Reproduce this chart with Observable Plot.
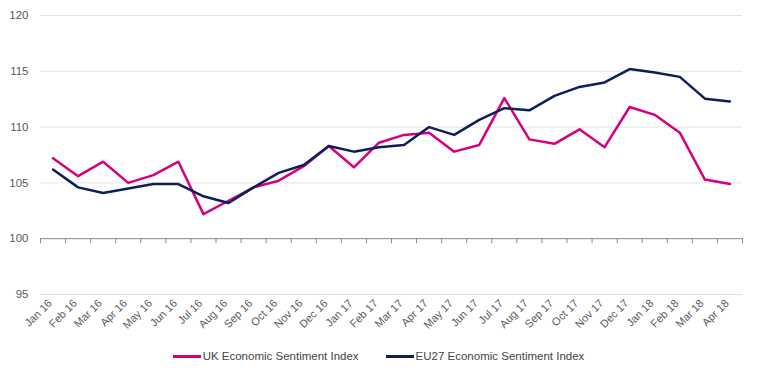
<!DOCTYPE html>
<html>
<head>
<meta charset="utf-8">
<script src="https://cdn.jsdelivr.net/npm/d3@7"></script>
<script src="https://cdn.jsdelivr.net/npm/@observablehq/plot@0.6"></script>
<style>
  body { margin: 0; background: #fff; font-family: "Liberation Sans", Arial, sans-serif; }
  #chart svg { display: block; }
  .legend { display: flex; justify-content: center; gap: 27px; font-size: 11.5px; color: #444; margin-top: 14px; padding-left: 0px; }
  .legend .item { display: flex; align-items: center; }
  .legend .sw { display: inline-block; width: 28px; height: 3px; margin-right: 2px; }
</style>
</head>
<body>
<div id="chart"></div>
<div class="legend">
  <div class="item"><span class="sw" style="background:#d6007e"></span>UK Economic Sentiment Index</div>
  <div class="item"><span class="sw" style="background:#0c1e5b"></span>EU27 Economic Sentiment Index</div>
</div>
<script>
const months = ["Jan 16","Feb 16","Mar 16","Apr 16","May 16","Jun 16","Jul 16","Aug 16","Sep 16","Oct 16","Nov 16","Dec 16",
  "Jan 17","Feb 17","Mar 17","Apr 17","May 17","Jun 17","Jul 17","Aug 17","Sep 17","Oct 17","Nov 17","Dec 17",
  "Jan 18","Feb 18","Mar 18","Apr 18"];
const ukValues = [107.2,105.6,106.9,105.0,105.7,106.9,102.2,103.4,104.6,105.2,106.5,108.3,
  106.4,108.6,109.3,109.5,107.8,108.4,112.6,108.9,108.5,109.8,108.2,111.8,111.1,109.5,105.3,104.9];
const euValues = [106.2,104.6,104.1,104.5,104.9,104.9,103.8,103.2,104.6,105.9,106.6,108.3,
  107.8,108.2,108.4,110.0,109.3,110.65,111.7,111.5,112.8,113.6,114.0,115.2,114.9,114.5,112.55,112.3];
const yTicks = [95,100,105,110,115,120];

const data = months.map((m, i) => ({i, month: m, uk: ukValues[i], eu: euValues[i]}));
const boundaries = d3.range(-0.5, months.length, 1);

const chart = Plot.plot({
  width: 757,
  height: 336,
  marginTop: 15,
  marginLeft: 40,
  marginRight: 15,
  marginBottom: 42,
  style: {fontFamily: "'Liberation Sans', Arial, sans-serif", fontSize: "11px", color: "#555"},
  x: {type: "linear", domain: [-0.5, months.length - 0.5]},
  y: {domain: [95, 120]},
  marks: [
    Plot.ruleY(yTicks.filter(d => d !== 100), {stroke: "#e3e3e3", strokeWidth: 1}),
    Plot.axisY({ticks: yTicks, tickSize: 0, tickPadding: 12, label: null, fill: "#5a5a5a", fontSize: 11.5}),
    Plot.ruleY([100], {stroke: "#8a8a8a", strokeWidth: 1}),
    Plot.ruleX(boundaries, {x: d => d, y1: 100, y2: 100, insetBottom: -5, stroke: "#8a8a8a"}),
    Plot.axisX({ticks: d3.range(months.length), tickFormat: i => months[i], tickSize: 0, tickPadding: 7, tickRotate: -45, label: null, fill: "#5a5a5a", fontSize: 11, dx: -3}),
    Plot.line(data, {x: "i", y: "uk", stroke: "#d6007e", strokeWidth: 2.5, curve: "linear"}),
    Plot.line(data, {x: "i", y: "eu", stroke: "#0c1e5b", strokeWidth: 2.5, curve: "linear"})
  ]
});
document.getElementById("chart").append(chart);
</script>
</body>
</html>
